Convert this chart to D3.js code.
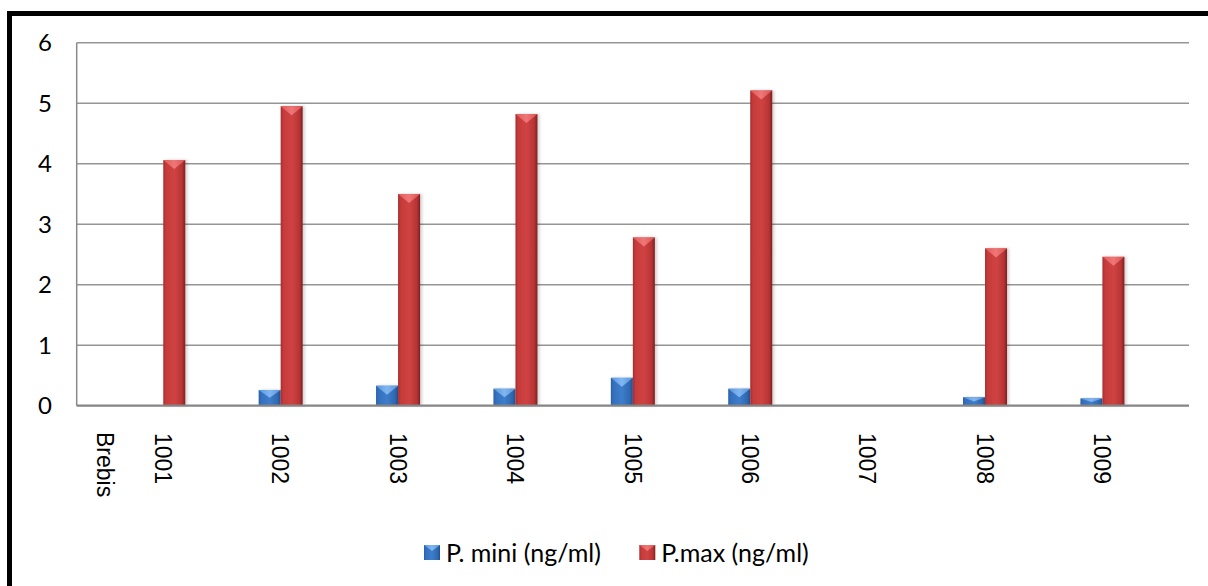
<!DOCTYPE html>
<html>
<head>
<meta charset="utf-8">
<script src="https://cdn.jsdelivr.net/npm/d3@7"></script>
<style>
    body { margin: 0; background: #fff; }
    svg { display: block; }
</style>
</head>
<body>
<div id="chart"></div>
<script>
'use strict';

// values
var categories = ['1001', '1002', '1003', '1004', '1005', '1006', '1007', '1008', '1009'];
var p_mini = [null, 0.26, 0.33, 0.28, 0.46, 0.28, null, 0.14, 0.12];
var p_max = [4.06, 4.95, 3.50, 4.82, 2.78, 5.21, null, 2.60, 2.46];
var y_ticks = [0, 1, 2, 3, 4, 5, 6];
var series_names = ['P. mini (ng/ml)', 'P.max (ng/ml)'];
var axis_title = 'Brebis';

var width = 1208,
    height = 586,
    plot = { left: 76.7, right: 1189, top: 42.7, bottom: 405.7 };

var svg = d3.select('#chart').append('svg')
    .attr('width', width)
    .attr('height', height);

var defs = svg.append('defs');

function addGradient(id, stops) {
    var g = defs.append('linearGradient')
        .attr('id', id)
        .attr('x1', '0%').attr('x2', '100%')
        .attr('y1', '0%').attr('y2', '0%');
    stops.forEach(function(s) {
        g.append('stop').attr('offset', s[0]).attr('stop-color', s[1]);
    });
}
addGradient('red_body', [['0%', '#a62c2c'], ['12%', '#c53a3a'], ['50%', '#d04343'], ['85%', '#b83434'], ['100%', '#7e2020']]);
addGradient('red_top', [['0%', '#e25a5a'], ['50%', '#ef7676'], ['100%', '#da5252']]);
addGradient('blue_body', [['0%', '#2a5fa5'], ['12%', '#3470bd'], ['50%', '#3d7dcb'], ['85%', '#3068b0'], ['100%', '#20508f']]);
addGradient('blue_top', [['0%', '#5a96de'], ['50%', '#80b6f0'], ['100%', '#5a94da']]);

var shadow = defs.append('filter').attr('id', 'bar_shadow')
    .attr('x', '-30%').attr('y', '-10%').attr('width', '160%').attr('height', '120%');
shadow.append('feDropShadow')
    .attr('dx', 2).attr('dy', 0).attr('stdDeviation', 1.5)
    .attr('flood-color', '#000').attr('flood-opacity', 0.18);

// chart frame (only top and left edges are visible in the picture)
svg.append('rect').attr('x', 7).attr('y', 11).attr('width', width - 7).attr('height', 5).attr('fill', '#000');
svg.append('rect').attr('x', 7).attr('y', 11).attr('width', 5).attr('height', height - 11).attr('fill', '#000');

var x = d3.scaleBand()
    .domain(categories)
    .range([plot.left, plot.right])
    .paddingInner(0.625)
    .paddingOuter(0.55);

var x_inner = d3.scaleBand()
    .domain([0, 1])
    .range([0, x.bandwidth()]);

var y = d3.scaleLinear()
    .domain([0, 6])
    .range([plot.bottom, plot.top]);

// gridlines
svg.append('g')
    .selectAll('line')
    .data(y_ticks.filter(function(d) { return d > 0; }))
    .enter().append('line')
    .attr('x1', plot.left).attr('x2', plot.right)
    .attr('y1', function(d) { return y(d); })
    .attr('y2', function(d) { return y(d); })
    .attr('stroke', '#959595')
    .attr('stroke-width', 1.5);

// y axis line
svg.append('line')
    .attr('x1', plot.left).attr('x2', plot.left)
    .attr('y1', plot.top).attr('y2', plot.bottom)
    .attr('stroke', '#8a8a8a').attr('stroke-width', 1.5);

// y tick labels
svg.append('g')
    .selectAll('text')
    .data(y_ticks)
    .enter().append('text')
    .attr('x', 52)
    .attr('y', function(d) { return y(d); })
    .attr('dy', '0.36em')
    .attr('text-anchor', 'end')
    .attr('font-family', 'Lato, "Open Sans", sans-serif')
    .attr('font-size', 24)
    .attr('fill', '#000')
    .text(function(d) { return d; });

// bars
var series = [
    { values: p_mini, body: 'url(#blue_body)', top: 'url(#blue_top)' },
    { values: p_max, body: 'url(#red_body)', top: 'url(#red_top)' }
];

var bar_data = [];
series.forEach(function(s, si) {
    s.values.forEach(function(v, ci) {
        if (v === null) return;
        bar_data.push({ cat: categories[ci], si: si, value: v, body: s.body, top: s.top });
    });
});

var bars = svg.append('g')
    .selectAll('g')
    .data(bar_data)
    .enter().append('g')
    .attr('filter', 'url(#bar_shadow)');

bars.append('rect')
    .attr('x', function(d) { return x(d.cat) + x_inner(d.si); })
    .attr('y', function(d) { return y(d.value); })
    .attr('width', x_inner.bandwidth())
    .attr('height', function(d) { return plot.bottom - y(d.value); })
    .attr('fill', function(d) { return d.body; });

// bevel triangle at the top of each bar
bars.append('path')
    .attr('d', function(d) {
        var x0 = x(d.cat) + x_inner(d.si),
            w = x_inner.bandwidth(),
            y0 = y(d.value),
            h = Math.min(9, (plot.bottom - y0) / 2);
        return 'M' + x0 + ',' + y0 + 'L' + (x0 + w) + ',' + y0 + 'L' + (x0 + w / 2) + ',' + (y0 + h) + 'Z';
    })
    .attr('fill', function(d) { return d.top; });

// bottom axis line
svg.append('line')
    .attr('x1', plot.left).attr('x2', plot.right)
    .attr('y1', plot.bottom).attr('y2', plot.bottom)
    .attr('stroke', '#858585').attr('stroke-width', 2.2);

// category labels, rotated
svg.append('g')
    .selectAll('text')
    .data(categories)
    .enter().append('text')
    .attr('transform', function(d) {
        return 'translate(' + (x(d) + x.bandwidth() / 2) + ',433) rotate(90)';
    })
    .attr('dy', '0.36em')
    .attr('font-family', '"Liberation Sans", Arial, sans-serif')
    .attr('font-size', 23)
    .attr('fill', '#000')
    .text(function(d) { return d; });

svg.append('text')
    .attr('transform', 'translate(105,432) rotate(90)')
    .attr('dy', '0.36em')
    .attr('font-family', '"Liberation Sans", Arial, sans-serif')
    .attr('font-size', 23)
    .attr('fill', '#000')
    .text(axis_title);

// legend
var legend_x = [424, 639.3];
var legend = svg.append('g')
    .selectAll('g')
    .data(series_names)
    .enter().append('g')
    .attr('transform', function(d, i) { return 'translate(' + legend_x[i] + ',545)'; });

legend.append('rect')
    .attr('width', 16).attr('height', 15)
    .attr('fill', function(d, i) { return series[i].body; });

legend.append('path')
    .attr('d', 'M0,0L16,0L8,6Z')
    .attr('fill', function(d, i) { return series[i].top; });

legend.append('text')
    .attr('x', 22)
    .attr('y', 8)
    .attr('dy', '0.36em')
    .attr('font-family', 'Lato, "Open Sans", sans-serif')
    .attr('font-size', 25)
    .attr('fill', '#000')
    .text(function(d) { return d; });
</script>
</body>
</html>
